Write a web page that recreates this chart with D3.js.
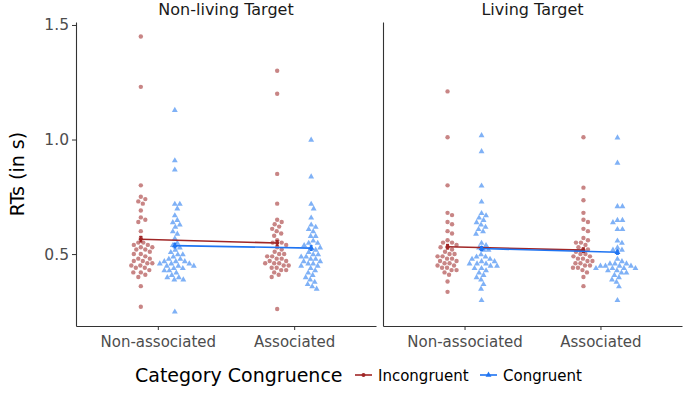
<!DOCTYPE html>
<html>
<head>
<meta charset="utf-8">
<script src="https://cdn.jsdelivr.net/npm/d3@7"></script>
<style>
  body { margin: 0; background: #fff; }
  text { font-family: "DejaVu Sans", sans-serif; }
</style>
</head>
<body>
<div id="chart"></div>
<script>
// facets, categories, groups
var panels = ["Non-living Target", "Living Target"];
var categories = ["Non-associated", "Associated"];
var congruence = ["Incongruent", "Congruent"];
var yTicks = [0.5, 1.0, 1.5];

// individual RTs (s)
var nonlivingNonassocIncongruent = [1.45, 1.23, 0.80, 0.75, 0.74, 0.73, 0.72, 0.69, 0.66, 0.65, 0.64, 0.60, 0.57, 0.55, 0.55, 0.54, 0.54, 0.53, 0.53, 0.52, 0.52, 0.51, 0.50, 0.50, 0.49, 0.48, 0.48, 0.47, 0.47, 0.46, 0.46, 0.45, 0.45, 0.44, 0.44, 0.43, 0.42, 0.42, 0.41, 0.40, 0.36, 0.27];
var nonlivingNonassocCongruent = [1.13, 0.91, 0.87, 0.72, 0.72, 0.70, 0.67, 0.65, 0.64, 0.63, 0.62, 0.60, 0.59, 0.57, 0.55, 0.54, 0.53, 0.52, 0.51, 0.50, 0.50, 0.49, 0.48, 0.48, 0.47, 0.47, 0.47, 0.46, 0.46, 0.46, 0.45, 0.45, 0.45, 0.44, 0.44, 0.43, 0.43, 0.42, 0.41, 0.40, 0.40, 0.39, 0.39, 0.25];
var nonlivingAssocIncongruent = [1.30, 1.20, 0.85, 0.72, 0.65, 0.64, 0.63, 0.62, 0.61, 0.60, 0.59, 0.58, 0.56, 0.55, 0.55, 0.54, 0.53, 0.52, 0.51, 0.50, 0.50, 0.49, 0.49, 0.48, 0.48, 0.47, 0.47, 0.46, 0.46, 0.46, 0.45, 0.45, 0.44, 0.44, 0.43, 0.43, 0.42, 0.41, 0.40, 0.26];
var nonlivingAssocCongruent = [1.00, 0.84, 0.72, 0.70, 0.66, 0.63, 0.62, 0.61, 0.60, 0.58, 0.58, 0.56, 0.55, 0.55, 0.54, 0.53, 0.53, 0.52, 0.51, 0.50, 0.50, 0.49, 0.49, 0.48, 0.48, 0.47, 0.47, 0.46, 0.46, 0.45, 0.45, 0.44, 0.43, 0.42, 0.41, 0.40, 0.39, 0.38, 0.37, 0.36, 0.35];
var livingNonassocIncongruent = [1.21, 1.01, 0.80, 0.68, 0.67, 0.64, 0.63, 0.60, 0.59, 0.56, 0.55, 0.55, 0.54, 0.53, 0.53, 0.52, 0.51, 0.50, 0.50, 0.49, 0.49, 0.48, 0.48, 0.47, 0.47, 0.46, 0.46, 0.45, 0.45, 0.44, 0.44, 0.43, 0.43, 0.42, 0.41, 0.38, 0.335];
var livingNonassocCongruent = [1.02, 0.95, 0.80, 0.73, 0.68, 0.67, 0.66, 0.65, 0.64, 0.63, 0.62, 0.61, 0.60, 0.59, 0.55, 0.54, 0.53, 0.52, 0.52, 0.50, 0.49, 0.49, 0.48, 0.48, 0.47, 0.47, 0.46, 0.46, 0.46, 0.45, 0.45, 0.44, 0.44, 0.43, 0.42, 0.41, 0.40, 0.39, 0.37, 0.35, 0.30];
var livingAssocIncongruent = [1.01, 0.79, 0.735, 0.68, 0.65, 0.64, 0.61, 0.60, 0.57, 0.56, 0.55, 0.55, 0.54, 0.53, 0.52, 0.52, 0.51, 0.50, 0.50, 0.49, 0.49, 0.48, 0.48, 0.47, 0.47, 0.46, 0.46, 0.45, 0.45, 0.44, 0.44, 0.43, 0.42, 0.40, 0.36];
var livingAssocCongruent = [1.01, 0.90, 0.71, 0.71, 0.65, 0.65, 0.64, 0.61, 0.61, 0.56, 0.55, 0.53, 0.52, 0.52, 0.48, 0.47, 0.46, 0.46, 0.46, 0.45, 0.45, 0.45, 0.45, 0.44, 0.44, 0.44, 0.44, 0.43, 0.43, 0.42, 0.42, 0.41, 0.40, 0.39, 0.38, 0.36, 0.30];

// condition means and standard errors [panel][category]
var meanIncongruent = [[0.565, 0.548], [0.532, 0.517]];
var meanCongruent = [[0.537, 0.526], [0.524, 0.508]];
var seIncongruent = [[0.012, 0.011], [0.010, 0.010]];
var seCongruent = [[0.010, 0.010], [0.009, 0.009]];

var raw = [
  [[nonlivingNonassocIncongruent, nonlivingNonassocCongruent], [nonlivingAssocIncongruent, nonlivingAssocCongruent]],
  [[livingNonassocIncongruent, livingNonassocCongruent], [livingAssocIncongruent, livingAssocCongruent]]
];

var colPoint = { Incongruent: "#c88585", Congruent: "#7fb1f6" };
var colMean = { Incongruent: "#a02626", Congruent: "#1f74f2" };

var W = 685, H = 416;
var panelX = [[76, 376], [383, 682]];
var plotTop = 22, plotBottom = 326;
var dodge = 17;

var svg = d3.select("#chart").append("svg")
  .attr("width", W).attr("height", H);

var y = d3.scaleLinear().domain([0.186, 1.513]).range([plotBottom, plotTop]);

var tri = d3.symbol().type(d3.symbolTriangle).size(15);

// simple beeswarm: place each point at the smallest offset that does not overlap
function swarm(vals, cx, diam) {
  var pts = vals.map(function(v) { return { v: v, py: y(v) }; })
    .sort(function(a, b) { return a.py - b.py; });
  var placed = [];
  pts.forEach(function(p) {
    for (var k = 0; k < 200; k++) {
      var off = Math.ceil(k / 2) * 0.5 * (k % 2 ? 1 : -1);
      var ok = placed.every(function(q) {
        var dx = q.px - (cx + off), dy = q.py - p.py;
        return dx * dx + dy * dy >= diam * diam;
      });
      if (ok) { p.px = cx + off; break; }
    }
    placed.push(p);
  });
  return placed;
}

panels.forEach(function(name, pi) {
  var x0 = panelX[pi][0], x1 = panelX[pi][1];
  var x = d3.scalePoint().domain(categories).range([x0, x1]).padding(0.6);

  var g = svg.append("g");

  // strip title
  g.append("text")
    .attr("x", (x0 + x1) / 2).attr("y", 15)
    .attr("text-anchor", "middle")
    .style("font-size", "16px").style("fill", "#1a1a1a")
    .text(name);

  // axes
  var xAxis = g.append("g")
    .attr("transform", "translate(0," + plotBottom + ")")
    .call(d3.axisBottom(x).tickSize(4).tickSizeOuter(0));
  xAxis.select(".domain").attr("stroke", "#333").attr("stroke-width", 1.1);
  xAxis.selectAll(".tick line").attr("stroke", "#333");
  xAxis.selectAll("text").attr("dy", "0.9em")
    .style("font-size", "15px").style("fill", "#4d4d4d");

  var yAxis = g.append("g")
    .attr("transform", "translate(" + x0 + ",0)")
    .call(d3.axisLeft(y).tickValues(pi === 0 ? yTicks : []).tickSize(4).tickSizeOuter(0)
      .tickFormat(d3.format(".1f")));
  yAxis.select(".domain").attr("stroke", "#333").attr("stroke-width", 1.1);
  yAxis.selectAll(".tick line").attr("stroke", "#333");
  yAxis.selectAll("text").style("font-size", "15.5px").style("fill", "#4d4d4d");

  // points
  categories.forEach(function(cat, ci) {
    congruence.forEach(function(cong, gi) {
      var cx = x(cat) + (gi === 0 ? -dodge : dodge);
      var pts = swarm(raw[pi][ci][gi], cx, 5);
      if (cong === "Incongruent") {
        g.selectAll(null).data(pts).enter().append("circle")
          .attr("cx", function(d) { return d.px; })
          .attr("cy", function(d) { return d.py; })
          .attr("r", 2.2)
          .attr("fill", colPoint[cong]);
      } else {
        g.selectAll(null).data(pts).enter().append("path")
          .attr("d", tri)
          .attr("transform", function(d) { return "translate(" + d.px + "," + (d.py + 0.5) + ")"; })
          .attr("fill", colPoint[cong]);
      }
    });
  });

  // means, lines, error bars
  congruence.forEach(function(cong, gi) {
    var means = gi === 0 ? meanIncongruent[pi] : meanCongruent[pi];
    var ses = gi === 0 ? seIncongruent[pi] : seCongruent[pi];
    var mx = function(ci) { return x(categories[ci]) + (gi === 0 ? -dodge : dodge); };
    var line = d3.line()
      .x(function(d, i) { return mx(i); })
      .y(function(d) { return y(d); });
    g.append("path").datum(means)
      .attr("d", line)
      .attr("fill", "none")
      .attr("stroke", colMean[cong])
      .attr("stroke-width", 1.6);
    means.forEach(function(m, ci) {
      var cx = mx(ci);
      g.append("line")
        .attr("x1", cx).attr("x2", cx)
        .attr("y1", y(m - ses[ci])).attr("y2", y(m + ses[ci]))
        .attr("stroke", colMean[cong]).attr("stroke-width", 1.6);
      [m - ses[ci], m + ses[ci]].forEach(function(e) {
        g.append("line")
          .attr("x1", cx - 1.5).attr("x2", cx + 1.5)
          .attr("y1", y(e)).attr("y2", y(e))
          .attr("stroke", colMean[cong]).attr("stroke-width", 1.2);
      });
      if (gi === 0) {
        g.append("circle").attr("cx", cx).attr("cy", y(m)).attr("r", 2)
          .attr("fill", colMean[cong]);
      } else {
        g.append("path").attr("d", tri)
          .attr("transform", "translate(" + cx + "," + y(m) + ")")
          .attr("fill", colMean[cong]);
      }
    });
  });
});

// y title
svg.append("text")
  .attr("transform", "translate(24," + ((plotTop + plotBottom) / 2) + ") rotate(-90)")
  .attr("text-anchor", "middle")
  .style("font-size", "19px").style("fill", "#000")
  .text("RTs (in s)");

// legend
var leg = svg.append("g").attr("transform", "translate(0,375)");
leg.append("text")
  .attr("x", 135).attr("y", 7)
  .style("font-size", "19px").style("fill", "#000")
  .text("Category Congruence");

var legX = [355, 480];
congruence.forEach(function(cong, gi) {
  var lx = legX[gi];
  leg.append("line")
    .attr("x1", lx).attr("x2", lx + 17)
    .attr("y1", 0).attr("y2", 0)
    .attr("stroke", colMean[cong]).attr("stroke-width", 1.6);
  if (gi === 0) {
    leg.append("circle").attr("cx", lx + 8.5).attr("cy", 0).attr("r", 2)
      .attr("fill", colMean[cong]);
  } else {
    leg.append("path").attr("d", tri)
      .attr("transform", "translate(" + (lx + 8.5) + ",0)")
      .attr("fill", colMean[cong]);
  }
  leg.append("text")
    .attr("x", lx + 23).attr("y", 5.5)
    .style("font-size", "15px").style("fill", "#000")
    .text(cong);
});
</script>
</body>
</html>
